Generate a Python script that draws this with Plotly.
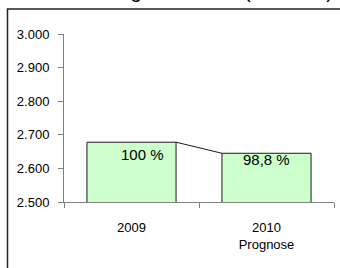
import plotly.graph_objects as go

categories = ["2009", "2010<br>Prognose"]
values = [2678, 2645]
labels = ["100 %", "98,8 %"]
y_ticks = [2500, 2600, 2700, 2800, 2900, 3000]
title_text = "Entwicklung der Erlöse (in Mio. €)"

W, H = 340, 268
L, T = 64, 34
R = W - 334
B = H - 202
pw, ph = W - L - R, H - T - B
BAR_W = 0.66
FONT = "Liberation Sans, Arial, sans-serif"

fig = go.Figure()
fig.add_trace(go.Bar(
    x=categories, y=values, width=BAR_W,
    marker=dict(color="#CCFFCC", line=dict(color="#1a1a1a", width=1)),
    hoverinfo="skip", showlegend=False,
))
# series line joining bar tops (Excel-style)
fig.add_trace(go.Scatter(
    x=[0 + BAR_W / 2, 1 - BAR_W / 2], y=values, xaxis="x2",
    mode="lines", line=dict(color="#1a1a1a", width=1),
    hoverinfo="skip", showlegend=False,
))

ann = []
offsets = [(11, -12), (0, -6)]
for i, (v, t) in enumerate(zip(values, labels)):
    dx, dy = offsets[i]
    ann.append(dict(x=i, y=v, xref="x2", yref="y", text=t, showarrow=False,
                    xanchor="center", yanchor="middle", xshift=dx, yshift=dy,
                    font=dict(family=FONT, size=15, color="#000000")))
ann.append(dict(x=(335 - L) / pw, y=(H - B - 4) / ph, xref="paper", yref="paper",
                text=title_text, showarrow=False, xanchor="right", yanchor="bottom",
                font=dict(family=FONT, size=20, color="#000000")))

fig.update_layout(
    width=W, height=H, margin=dict(l=L, r=R, t=T, b=B, autoexpand=False),
    paper_bgcolor="white", plot_bgcolor="white",
    separators=",.",
    hovermode=False,
    font=dict(family=FONT, size=13, color="#000000"),
    xaxis=dict(type="category", tickson="boundaries", ticks="outside", ticklen=5,
               tickcolor="#808080", showline=True, linecolor="#808080", linewidth=1,
               showgrid=False, zeroline=False, range=[-0.5, 1.5], automargin=False,
               ticklabelstandoff=13,
               tickfont=dict(family=FONT, size=13, color="#000000")),
    xaxis2=dict(overlaying="x", range=[-0.5, 1.5], visible=False),
    yaxis=dict(range=[2500, 3000], tickvals=y_ticks, tickformat=",d",
               ticks="outside", ticklen=5, tickcolor="#808080",
               showline=True, linecolor="#808080", linewidth=1,
               showgrid=False, zeroline=False, automargin=False,
               ticklabelstandoff=6,
               tickfont=dict(family=FONT, size=13, color="#000000")),
    annotations=ann,
    shapes=[dict(type="rect", xref="paper", yref="paper",
                 x0=(7.5 - L) / pw, x1=(W + 40 - L) / pw,
                 y0=-(B + 20) / ph, y1=(H - B - 9) / ph,
                 line=dict(color="#222222", width=1.5), fillcolor="rgba(0,0,0,0)",
                 layer="below")],
)
fig.write_html("out.html", config={"displayModeBar": False, "staticPlot": True},
               post_script="document.body.style.margin='0';document.body.style.overflow='hidden';")
